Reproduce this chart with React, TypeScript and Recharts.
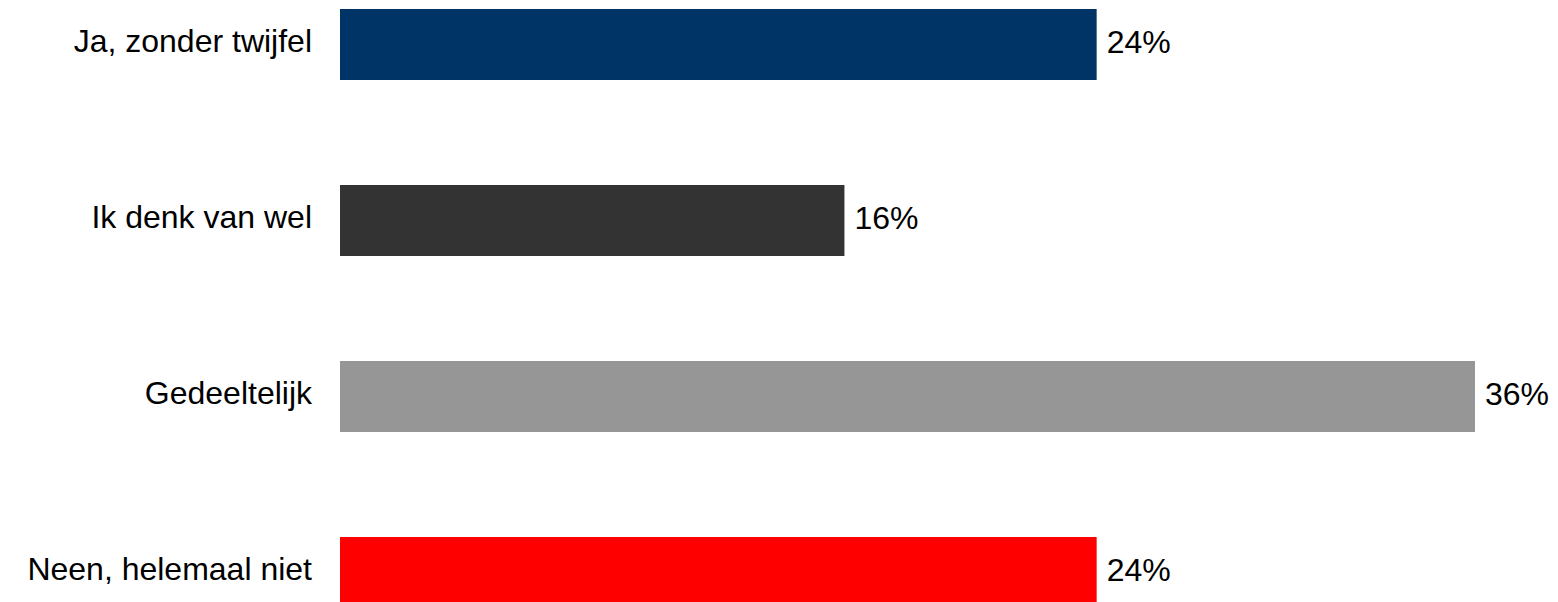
import React from "react";
import { BarChart, Bar, XAxis, YAxis, Cell, LabelList } from "recharts";

const categories = ["Ja, zonder twijfel", "Ik denk van wel", "Gedeeltelijk", "Neen, helemaal niet"];
const shares = [24, 16, 36, 24];
const barColors = ["#003366", "#333333", "#969696", "#FF0000"];

const data = categories.map((name, i) => ({ name, value: shares[i] }));

const FONT = "'Liberation Sans', Arial, sans-serif";

export default function App() {
  return (
    <div style={{ position: "fixed", top: 0, left: 0, width: 1558, height: 602, background: "#fff" }}>
      <BarChart
        width={1558}
        height={602}
        data={data}
        layout="vertical"
        margin={{ top: -44, right: 83, bottom: -58, left: 0 }}
        barCategoryGap={0}
      >
        <XAxis type="number" domain={[0, 36]} hide />
        <YAxis
          type="category"
          dataKey="name"
          width={340}
          axisLine={false}
          tickLine={false}
          tickMargin={22}
          tick={{ fill: "#000", fontSize: 32, fontFamily: FONT, dy: -3 }}
          interval={0}
        />
        <Bar dataKey="value" barSize={71} isAnimationActive={false}>
          {data.map((d, i) => (
            <Cell key={d.name} fill={barColors[i]} />
          ))}
          <LabelList
            dataKey="value"
            position="right"
            offset={10}
            formatter={(v: any) => `${v}%`}
            style={{ fill: "#000", fontSize: 32, fontFamily: FONT }}
            dy={-3}
          />
        </Bar>
      </BarChart>
    </div>
  );
}
